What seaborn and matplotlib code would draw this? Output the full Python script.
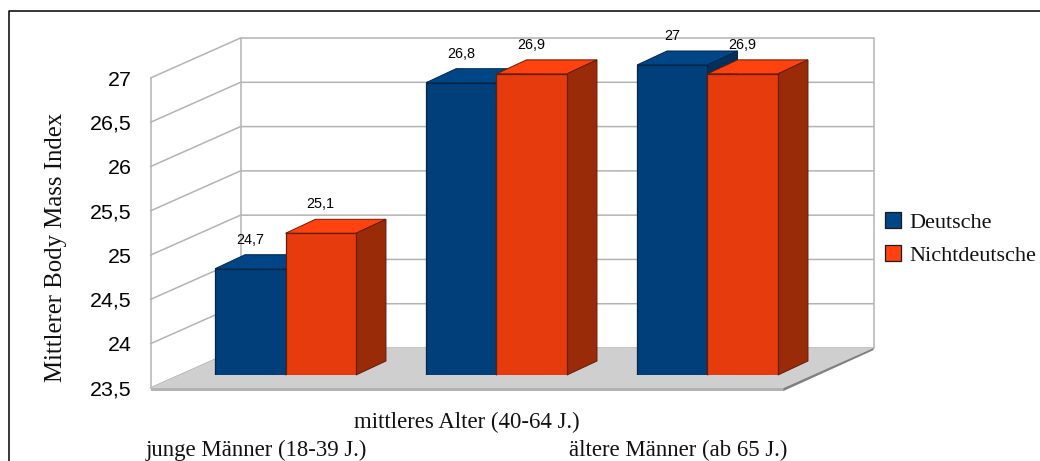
import matplotlib
matplotlib.use("Agg")
import matplotlib.pyplot as plt
import numpy as np
import pandas as pd
import seaborn as sns
from matplotlib.lines import Line2D
from matplotlib.patches import Patch, Polygon

# Mean body mass index of men by age group and nationality
age_groups = ["junge Männer (18-39 J.)", "mittleres Alter (40-64 J.)", "ältere Männer (ab 65 J.)"]
deutsche = [24.7, 26.8, 27.0]
nichtdeutsche = [25.1, 26.9, 26.9]
series_names = ["Deutsche", "Nichtdeutsche"]
y_ticks = [23.5, 24, 24.5, 25, 25.5, 26, 26.5, 27]
y_tick_labels = ["23,5", "24", "24,5", "25", "25,5", "26", "26,5", "27"]
y_title = "Mittlerer Body Mass Index"

W, H = 1040, 461
PX_PER_CAT = 211.0
PX_PER_BMI = 88.6
BMI_MIN = 23.5

COL_FRONT = ["#003F7A", "#E63B0C"]
COL_TOP = ["#004586", "#FF420E"]
COL_SIDE = ["#00305C", "#992B09"]
COL_EDGE = ["#00264A", "#661C06"]
COL_GRID = "#B3B3B3"

sns.set_theme(style="white")
plt.rcParams["font.family"] = ["Liberation Sans", "DejaVu Sans"]
SERIF = "Liberation Serif"


def box(left, top, right, bottom):
    return [left / W, 1 - bottom / H, (right - left) / W, (bottom - top) / H]


fig = plt.figure(figsize=(W / 100, H / 100), dpi=100, facecolor="white")

# Chart frame: only the top and left edges fall inside the canvas
fig.add_artist(Line2D([8.5 / W, 8.5 / W, 1], [0, 1 - 11.5 / H, 1 - 11.5 / H],
                      transform=fig.transFigure, color="black", lw=1.1))

# Front plane of the 3D box: carries the axis labels, walls and floor
wall = fig.add_axes(box(150.5, 78, 783.5, 388), facecolor="none")
wall.set_xlim(-0.5, 2.5)
wall.set_ylim(BMI_MIN, 27)
wall.set_xticks([0, 1, 2], age_groups, family=SERIF, fontsize=16.4, color="#111111")
wall.set_yticks(y_ticks, y_tick_labels, fontsize=15.4, color="black")
wall.tick_params(axis="both", length=0)
wall.tick_params(axis="y", pad=13.5)
for tick, pad in zip(wall.xaxis.get_major_ticks(), [37.5, 17.5, 37.5]):
    tick.set_pad(pad)
wall.set_ylabel(y_title, family=SERIF, fontsize=17.8, color="#111111")
wall.yaxis.set_label_coords((67 - 150.5) / 633, (388 - 247.5) / 310)
sns.despine(ax=wall, left=True, bottom=True)

depth_x = 90 / PX_PER_CAT
depth_y = 40 / PX_PER_BMI
x0, x1 = -0.5, 2.5

# Floor with its thin front and right edges
slab = 3 / PX_PER_BMI
wall.add_patch(Polygon([(x0, BMI_MIN), (x0 + depth_x, BMI_MIN + depth_y),
                        (x1 + depth_x, BMI_MIN + depth_y), (x1, BMI_MIN)],
                       closed=True, fc="#CFCFCF", ec="none", clip_on=False, zorder=1))
wall.add_patch(Polygon([(x0, BMI_MIN), (x1, BMI_MIN), (x1, BMI_MIN - slab), (x0, BMI_MIN - slab)],
                       closed=True, fc="#B3B3B3", ec="none", clip_on=False, zorder=1))
wall.add_patch(Polygon([(x1, BMI_MIN), (x1 + depth_x, BMI_MIN + depth_y),
                        (x1 + depth_x, BMI_MIN + depth_y - slab * 0.7), (x1, BMI_MIN - slab)],
                       closed=True, fc="#808080", ec="none", clip_on=False, zorder=1))

# Grid lines on the back and left walls
for level in y_ticks:
    wall.plot([x0, x0 + depth_x, x1 + depth_x],
              [level, level + depth_y, level + depth_y],
              color=COL_GRID, lw=1.1, clip_on=False, zorder=0.5, solid_joinstyle="miter")
for xpos, low, high in [(x0, BMI_MIN, 27),
                        (x0 + depth_x, BMI_MIN + depth_y, 27 + depth_y),
                        (x1 + depth_x, BMI_MIN + depth_y, 27 + depth_y)]:
    wall.plot([xpos, xpos], [low, high], color=COL_GRID, lw=1.1, clip_on=False, zorder=0.5)

# Plane of the bars' front faces, set back a little from the front of the box
ax = fig.add_axes(box(180, 20.7, 813, 375), facecolor="none")
table = pd.DataFrame({
    "gruppe": age_groups * 2,
    "serie": [series_names[0]] * 3 + [series_names[1]] * 3,
    "bmi": deutsche + nichtdeutsche,
})
sns.barplot(data=table, x="gruppe", y="bmi", hue="serie", order=age_groups,
            hue_order=series_names, palette=COL_FRONT, width=0.668, gap=0,
            saturation=1, legend=False, ax=ax)
ax.set_xlim(-0.5, 2.5)
ax.set_ylim(BMI_MIN, 27.5)
ax.set_xlabel("")
ax.set_ylabel("")
ax.set_xticks([])
ax.set_yticks([])
sns.despine(ax=ax, left=True, bottom=True)

bar_dx = 30 / PX_PER_CAT
bar_dy = 14 / PX_PER_BMI
for idx, container in enumerate(ax.containers):
    base_z = 3 + idx * 3
    for patch in container.patches:
        left = patch.get_x()
        right = left + patch.get_width()
        value = patch.get_height()
        patch.set_edgecolor(COL_EDGE[idx])
        patch.set_linewidth(0.9)
        patch.set_zorder(base_z + 1)
        ax.add_patch(Polygon([(left, value), (right, value),
                              (right + bar_dx, value + bar_dy), (left + bar_dx, value + bar_dy)],
                             closed=True, fc=COL_TOP[idx], ec=COL_EDGE[idx], lw=0.7,
                             clip_on=False, zorder=base_z))
        ax.add_patch(Polygon([(right, value), (right + bar_dx, value + bar_dy),
                              (right + bar_dx, BMI_MIN + bar_dy), (right, BMI_MIN)],
                             closed=True, fc=COL_SIDE[idx], ec=COL_EDGE[idx], lw=0.7,
                             clip_on=False, zorder=base_z))
        label = f"{value:g}".replace(".", ",")
        ax.annotate(label, xy=((left + right) / 2, value), xytext=(0, 20.9),
                    textcoords="offset points", ha="center", va="center",
                    fontsize=10.4, color="black", zorder=10, annotation_clip=False)

# Legend with the lighter series colours
handles = [Patch(fc=COL_TOP[i], ec="#1A1A1A", lw=0.9, label=series_names[i]) for i in range(2)]
fig.legend(handles=handles, loc="center left", bbox_to_anchor=(876 / W, 1 - 239 / H),
           frameon=False, prop={"family": SERIF, "size": 16},
           handlelength=0.72, handleheight=0.72, handletextpad=0.36,
           labelspacing=0.54, borderaxespad=0, labelcolor="#111111")

fig.savefig("out.png", dpi=100, facecolor="white")
